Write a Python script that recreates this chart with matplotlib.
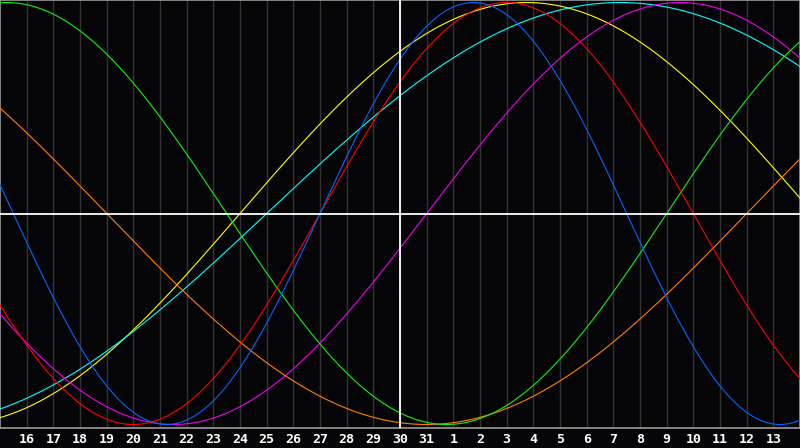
import numpy as np
import matplotlib
matplotlib.use("Agg")
import matplotlib.pyplot as plt

# Biorhythm data: days lived on the first day shown, and cycle lengths (days)
days_alive_at_start = 25748
cycle_names = ["physical", "emotional", "intellectual", "intuitive",
               "aesthetic", "awareness", "spiritual"]
cycle_periods = [23, 28, 33, 38, 43, 48, 53]
cycle_colors = ["#0066ff", "#ff0000", "#11ee11", "#ee00ee",
                "#ffff00", "#ff8000", "#00ffff"]

# Calendar days on the x axis (day 30 is "today")
day_labels = list(range(15, 32)) + list(range(1, 15))
today_index = day_labels.index(30)

bg = "#050508"
fig = plt.figure(figsize=(8, 4.48), dpi=100, facecolor=bg)
ax = fig.add_axes([0, 20 / 448, 1, 428 / 448], facecolor=bg)

n_days = len(day_labels) - 1
t = np.linspace(0, n_days, 1200)

# vertical day grid
for k in range(1, n_days):
    ax.axvline(k, color="#333333", lw=1.0, zorder=1)

# draw order similar to reference
order = [4, 6, 3, 5, 2, 1, 0]
for i in order:
    phase = 2 * np.pi * (t + days_alive_at_start) / cycle_periods[i]
    ax.plot(t, np.sin(phase), color=cycle_colors[i], lw=0.8, zorder=3,
            label=cycle_names[i])

ax.axhline(0, color="white", lw=1.3, zorder=4)
ax.axvline(today_index, color="white", lw=1.3, zorder=4)

ax.set_xlim(0, n_days)
ax.set_ylim(-1.0166, 1.012)

ticks = list(range(1, n_days))
ax.set_xticks(ticks)
ax.set_xticklabels([str(day_labels[k]) for k in ticks], color="white",
                   fontsize=9.5, fontweight="bold", family="DejaVu Sans Mono")
ax.tick_params(axis="x", length=0, pad=3.5)
ax.set_yticks([])

for side in ["top", "left", "bottom", "right"]:
    ax.spines[side].set_color("#9a9a9a")
    ax.spines[side].set_linewidth(1.2)

fig.savefig("out.png", dpi=100, facecolor=bg)
